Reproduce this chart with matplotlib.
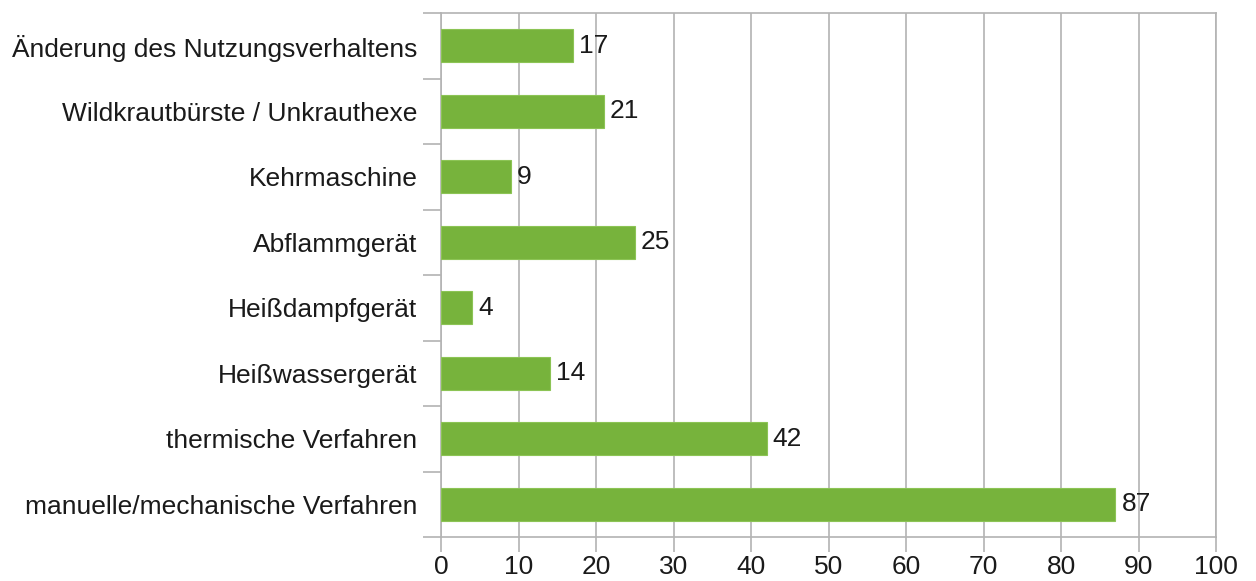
import matplotlib
matplotlib.use("Agg")
from matplotlib import pyplot as plt
import numpy as np

categories = ["manuelle/mechanische Verfahren", "thermische Verfahren", "Heißwassergerät",
              "Heißdampfgerät", "Abflammgerät", "Kehrmaschine",
              "Wildkrautbürste / Unkrauthexe", "Änderung des Nutzungsverhaltens"]
values = [87, 42, 14, 4, 25, 9, 21, 17]
xticks = list(range(0, 101, 10))

plt.rcParams['font.family'] = ['Liberation Sans', 'DejaVu Sans']
grey = "#b3b3b3"
green = "#77b33c"
fs = 19

fig = plt.figure(figsize=(12.56, 5.81), dpi=100)
ax = fig.add_axes([441/1256, 1 - 537/581, 775/1256, 524/581])

y = np.arange(len(categories))
ax.barh(y, values, height=0.5, color=green, edgecolor="#8cc455", linewidth=0.8, zorder=3)
for yi, v in zip(y, values):
    ax.text(v + 0.8, yi, str(v), va="center", ha="left", fontsize=fs, color="#1a1a1a", zorder=4)

ax.set_xlim(0, 100)
ax.set_ylim(-0.5, len(categories) - 0.5)
ax.set_xticks(xticks)
ax.set_xticklabels([str(t) for t in xticks], fontsize=fs, color="#1a1a1a")
ax.set_yticks(y)
ax.set_yticklabels(categories, fontsize=fs, color="#1a1a1a")
ax.set_yticks(np.arange(-0.5, len(categories), 1), minor=True)

ax.tick_params(axis="y", which="major", length=0, pad=17)
ax.tick_params(axis="y", which="minor", length=13, width=1.2, color=grey)
ax.tick_params(axis="x", which="major", length=11, width=1.2, color=grey, pad=2)

ax.grid(axis="x", color=grey, linewidth=1.2, zorder=0)
for s in ax.spines.values():
    s.set_color(grey)
    s.set_linewidth(1.2)

fig.savefig("out.png", dpi=100)
